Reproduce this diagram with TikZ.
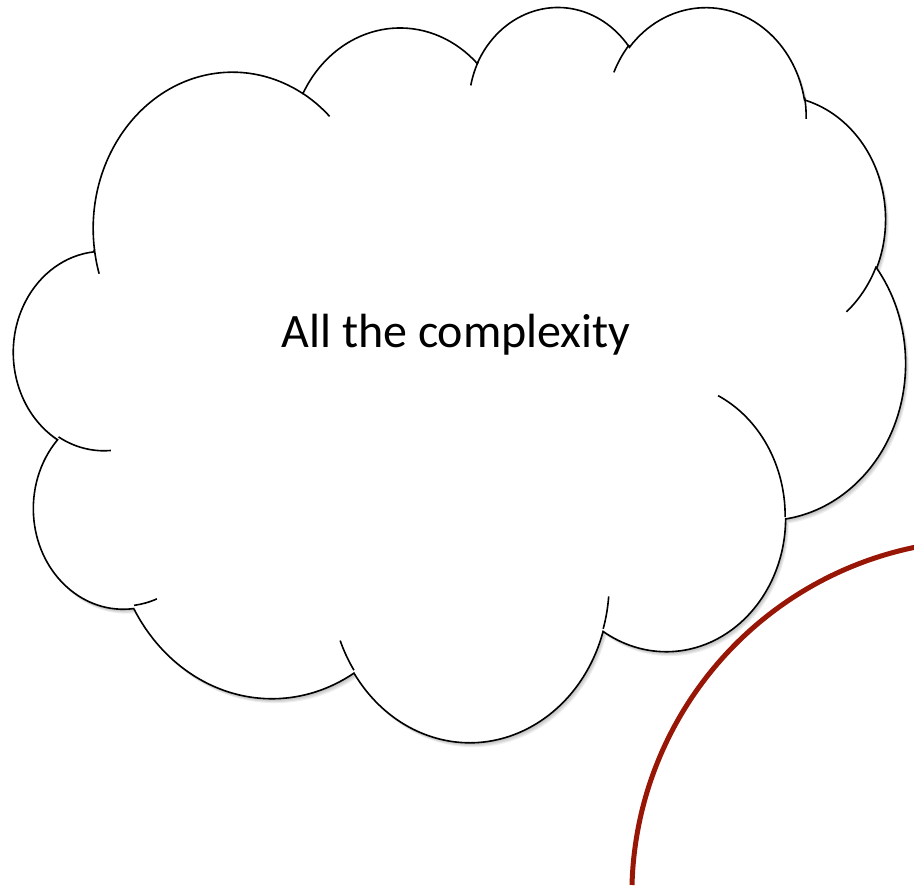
\documentclass[tikz,border=0pt]{standalone}
\usepackage{fontspec}
\setmainfont{Carlito}
\usetikzlibrary{positioning}

\definecolor{ringred}{RGB}{152,22,6}

% the cloud arcs give the angle seen on the ellipse, arc wants the parameter
\pgfmathdeclarefunction{vis}{3}{\pgfmathparse{atan2(#2*sin(#1),#3*cos(#1))}}

% one puff: x radius, y radius, start angle, sweep
\newcommand\puff[4]{arc[start angle={vis(#3,#1,#2)},
    delta angle={mod(vis(#3+#4,#1,#2)-vis(#3,#1,#2)+720,360)},
    x radius=#1, y radius=#2]}

\newcommand\cloudoutline{(3900,14370)
    \puff{6753}{9190}{-190.4875}{123.7805}
    \puff{5333}{7267}{-144.1024}{89.9452}
    \puff{4365}{5945}{-145.8079}{99.7230}
    \puff{4857}{6595}{-130.9861}{117.2417}
    \puff{5333}{7273}{-78.7089}{109.0269}
    \puff{6775}{9220}{-46.2673}{130.2690}
    \puff{5785}{7867}{0.6250}{114.0333}
    \puff{6752}{9215}{22.4516}{115.1726}
    \puff{7720}{10543}{66.2426}{75.7110}
    \puff{4360}{5918}{-274.9421}{146.7356}
    \puff{4345}{5945}{-246.8285}{152.5189}
    -- cycle}

% short inner strokes where the puffs meet
\newcommand\cloudtails{
    (4693,26177)  \puff{4345}{5945}{86.7420}{26.4295}
    (6928,34899)  \puff{4360}{5918}{73.6105}{11.4475}
    (16478,39090) \puff{6752}{9215}{137.6242}{14.0811}
    (28827,34751) \puff{6752}{9215}{6.4533}{15.9984}
    (34129,22954) \puff{5785}{7867}{-70.2924}{70.9174}
    (41798,15354) \puff{5333}{7273}{30.3180}{27.7515}
    (38324,5426)  \puff{4857}{6595}{-13.7443}{14.8589}
    (29078,3952)  \puff{4857}{6595}{-149.1815}{18.1954}
    (22141,4720)  \puff{4365}{5945}{-163.4943}{17.6864}
    (14000,5192)  \puff{6753}{9190}{-66.7070}{12.3194}
    (4127,15789)  \puff{6753}{9190}{157.6544}{11.8582}}

\begin{document}
\begin{tikzpicture}[
    x=1pt, y=-1pt,
    cloud/.style={draw=black, line width=1.6pt, fill=white},
    tails/.style={draw=black, line width=1.6pt},
    haze/.style={fill=black, opacity=0.07},
    txt/.style={font=\fontsize{48}{58}\selectfont, inner sep=0pt},
    ring/.style={draw=ringred, line width=5pt},
]
\useasboundingbox (0,0) rectangle (914,894);

%% CLOUD
\begin{scope}[shift={(14,5.1)}, x=0.020625pt, y=-0.017007pt]
    % soft shadow to the lower right
    \foreach \d in {1,...,4}
        \path[haze, xshift=0.8*\d pt, yshift=-1.1*\d pt] \cloudoutline;
    \path[cloud] \cloudoutline;
    \path[tails] \cloudtails;
\end{scope}

\node[txt, anchor=base] (complexity) at (456,347) {All the complexity};

%% RING
\coordinate (ringfoot) at (632,885);
\draw[ring] (ringfoot) arc[start angle=181.6, end angle=262, radius=355];

\end{tikzpicture}
\end{document}
